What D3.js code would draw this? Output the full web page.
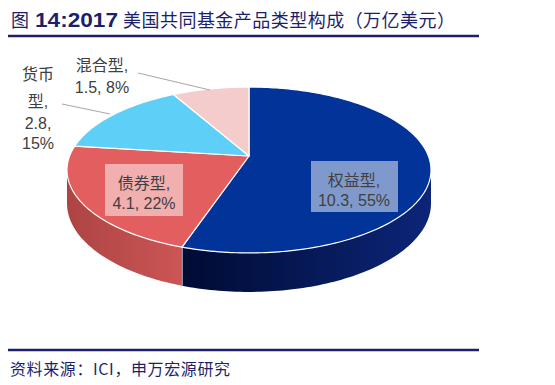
<!DOCTYPE html>
<html>
<head>
<meta charset="utf-8">
<script src="https://cdn.jsdelivr.net/npm/d3@7"></script>
<style>
  body { margin: 0; background: #fff; }
  svg { display: block; }
  text { font-family: "Liberation Sans", Arial, "Noto Sans CJK SC", sans-serif; }
</style>
</head>
<body>
<svg id="chart" width="555" height="385"></svg>
<script>
// data (万亿美元)
const categories = ['权益型', '债券型', '货币型', '混合型'];
const values = [10.3, 4.1, 2.8, 1.5];
const topColors = ['#013399', '#e35e5e', '#5ecff6', '#f5cccc'];
const sideColors = [['#0c2578', '#000b33'], ['#cc5555', '#ad4444'], ['#3fa9cf', '#3fa9cf'], ['#d9a9a9', '#d9a9a9']];

// label layout: lines of text, anchor x, baselines, optional box
const labelLines = [
  ['权益型,', null],
  ['债券型,', null],
  ['货币', '型,', null, null],
  ['混合型,', null]
];
const labelX = [354, 144, 38, 102];
const labelY = [[186, 206], [189, 209], [80, 107, 129, 149], [71, 93]];
const labelBox = [[311, 161, 87, 51], [105, 164, 78, 52], null, null];
const leaders = [null, null, [[62, 104], [110, 114]], [[138, 73], [210, 90]]];

const svg = d3.select('#chart');
const total = d3.sum(values);
const pie = d3.pie().sort(null).value(d => d)(values);

// projection of the tilted disc (simple perspective)
const cx = 249, cy = 156, a = 179.4, b = 80.6, k = 0.1687, depth = 32.4;
function proj(t) {
  const u = Math.sin(t), v = -Math.cos(t), w = 1 - k * v;
  return [cx + a * u / w, cy + b * v / w];
}
function down(t) {
  const p = proj(t), w = 1 + k * Math.cos(t);
  return [p[0], p[1] + depth / w];
}
function angles(t0, t1) {
  const n = Math.max(2, Math.ceil((t1 - t0) / 0.02));
  return d3.range(n + 1).map(i => t0 + (t1 - t0) * i / n);
}
const line = d3.line();
const tA = Math.acos(-k), tB = 2 * Math.PI - tA;

const defs = svg.append('defs');

// side walls
const g = svg.append('g');
pie.forEach((d, i) => {
  const s = Math.max(d.startAngle, tA), e = Math.min(d.endAngle, tB);
  if (s >= e) return;
  const ts = angles(s, e);
  const pts = ts.map(proj).concat(ts.slice().reverse().map(down));
  const grad = defs.append('linearGradient')
    .attr('id', 'side' + i)
    .attr('gradientUnits', 'userSpaceOnUse')
    .attr('x1', proj(s)[0]).attr('x2', proj(e)[0])
    .attr('y1', 0).attr('y2', 0);
  grad.append('stop').attr('offset', 0).attr('stop-color', sideColors[i][0]);
  grad.append('stop').attr('offset', 1).attr('stop-color', sideColors[i][1]);
  g.append('path')
    .attr('d', line(pts) + 'Z')
    .attr('fill', 'url(#side' + i + ')');
  if (d.endAngle > tA && d.endAngle < tB) {
    g.append('line')
      .attr('x1', proj(d.endAngle)[0]).attr('y1', proj(d.endAngle)[1])
      .attr('x2', down(d.endAngle)[0]).attr('y2', down(d.endAngle)[1])
      .attr('stroke', '#fff').attr('stroke-width', 1.2);
  }
});

// top faces
pie.forEach((d, i) => {
  const pts = [[cx, cy]].concat(angles(d.startAngle, d.endAngle).map(proj));
  g.append('path')
    .attr('d', line(pts) + 'Z')
    .attr('fill', topColors[i])
    .attr('stroke', '#fff')
    .attr('stroke-width', 1.2)
    .attr('stroke-linejoin', 'round');
});

// labels
pie.forEach((d, i) => {
  const pct = Math.round(d.value / total * 100) + '%';
  let lines = labelLines[i].slice();
  if (lines.length === 2) lines[1] = d.value + ', ' + pct;
  else { lines[2] = d.value + ','; lines[3] = pct; }
  if (labelBox[i]) {
    const bx = labelBox[i];
    svg.append('rect')
      .attr('x', bx[0]).attr('y', bx[1]).attr('width', bx[2]).attr('height', bx[3])
      .attr('fill', '#fff').attr('fill-opacity', 0.5);
  }
  if (leaders[i]) {
    svg.append('path')
      .attr('d', line(leaders[i]))
      .attr('stroke', '#a6a6a6').attr('stroke-width', 1).attr('fill', 'none');
  }
  lines.forEach((t, j) => {
    svg.append('text')
      .attr('x', labelX[i]).attr('y', labelY[i][j])
      .attr('text-anchor', 'middle')
      .attr('font-size', 16)
      .attr('fill', '#404040')
      .text(t);
  });
});

// title
const navy = '#1d1f6b';
svg.append('text').attr('x', 11).attr('y', 27).attr('font-size', 18).attr('fill', navy)
  .style('font-family', '"Noto Sans CJK SC", sans-serif').text('图');
svg.append('text').attr('x', 35).attr('y', 27).attr('font-size', 20).attr('font-weight', 'bold')
  .attr('fill', navy).attr('textLength', 83).attr('lengthAdjust', 'spacingAndGlyphs').text('14:2017');
svg.append('text').attr('x', 123).attr('y', 27).attr('font-size', 18).attr('fill', navy)
  .style('font-family', '"Noto Sans CJK SC", sans-serif')
  .attr('textLength', 332).attr('lengthAdjust', 'spacing')
  .text('美国共同基金产品类型构成（万亿美元）');
svg.append('line').attr('x1', 8).attr('x2', 479).attr('y1', 36).attr('y2', 36)
  .attr('stroke', navy).attr('stroke-width', 2.5);

// footer
svg.append('line').attr('x1', 8).attr('x2', 479).attr('y1', 350).attr('y2', 350)
  .attr('stroke', navy).attr('stroke-width', 2.5);
svg.append('text').attr('x', 10).attr('y', 375).attr('font-size', 16).attr('fill', navy)
  .style('font-family', '"Noto Sans CJK SC", sans-serif')
  .attr('textLength', 220).attr('lengthAdjust', 'spacing')
  .text('资料来源：ICI，申万宏源研究');
</script>
</body>
</html>
